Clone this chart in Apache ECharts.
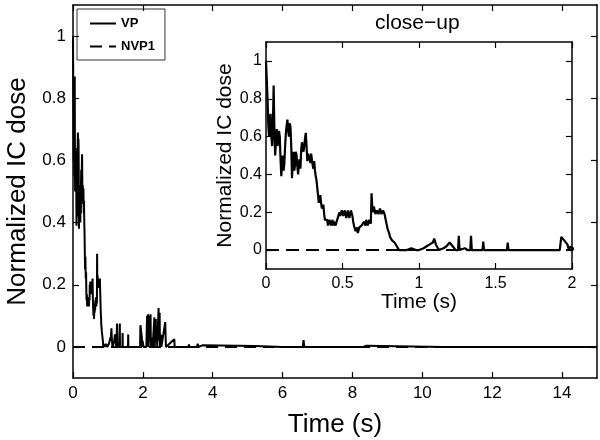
<!DOCTYPE html>
<html>
<head>
<meta charset="utf-8">
<script src="https://cdn.jsdelivr.net/npm/echarts@6/dist/echarts.min.js"></script>
<style>
  html, body { margin: 0; padding: 0; background: #fff; }
  #chart { width: 600px; height: 440px; }
</style>
</head>
<body>
<div id="chart"></div>
<script>
// VP dose, first 0.9 s, [time (s), normalized dose]
var vpEarly = [
  [0.00,1.00],[0.01,0.80],[0.02,0.60],[0.03,0.72],[0.04,0.55],[0.05,0.87],[0.06,0.50],[0.07,0.64],[0.08,0.58],[0.09,0.60],
  [0.10,0.39],[0.11,0.50],[0.12,0.46],[0.13,0.62],[0.14,0.69],[0.15,0.60],[0.16,0.65],[0.17,0.38],[0.18,0.52],[0.19,0.45],
  [0.20,0.50],[0.21,0.40],[0.22,0.48],[0.23,0.53],[0.24,0.57],[0.25,0.55],[0.26,0.62],[0.27,0.47],[0.28,0.52],[0.29,0.46],
  [0.30,0.50],[0.31,0.43],[0.32,0.42],[0.33,0.37],[0.34,0.29],[0.35,0.27],[0.36,0.25],[0.37,0.22],[0.38,0.19],[0.39,0.15],
  [0.40,0.16],[0.41,0.14],[0.42,0.15],[0.43,0.14],[0.44,0.13],[0.45,0.15],[0.46,0.14],[0.47,0.16],[0.48,0.20],[0.49,0.19],
  [0.50,0.21],[0.51,0.18],[0.52,0.20],[0.53,0.18],[0.54,0.19],[0.55,0.19],[0.56,0.22],[0.57,0.15],[0.58,0.12],[0.59,0.10],
  [0.60,0.09],[0.61,0.12],[0.62,0.11],[0.63,0.14],[0.64,0.15],[0.65,0.13],[0.66,0.16],[0.67,0.14],[0.68,0.16],[0.69,0.30],
  [0.70,0.20],[0.71,0.23],[0.72,0.19],[0.73,0.22],[0.74,0.20],[0.75,0.21],[0.76,0.19],[0.77,0.22],[0.78,0.17],[0.79,0.13],
  [0.80,0.10],[0.81,0.07],[0.82,0.06],[0.83,0.05],[0.84,0.04],[0.85,0.03],[0.86,0.01],[0.87,0.00],[0.88,0.01],[0.89,0.00]
];
// in-between samples (the jitter of the trace)
var vpEarlyFine = [
  [0.005,0.90],[0.015,0.66],[0.025,0.70],[0.035,0.60],[0.045,0.66],[0.055,0.62],[0.065,0.58],[0.075,0.55],[0.085,0.63],[0.095,0.48],
  [0.105,0.46],[0.115,0.42],[0.125,0.55],[0.135,0.66],[0.145,0.63],[0.155,0.67],[0.165,0.55],[0.175,0.47],[0.185,0.42],[0.195,0.52],
  [0.205,0.44],[0.215,0.46],[0.225,0.43],[0.235,0.57],[0.245,0.52],[0.255,0.59],[0.265,0.55],[0.275,0.51],[0.285,0.48],[0.295,0.51],
  [0.305,0.45],[0.315,0.47],[0.325,0.39],[0.335,0.33],[0.345,0.25],[0.355,0.29],[0.365,0.22],[0.375,0.24],[0.385,0.16],[0.395,0.17],
  [0.405,0.13],[0.415,0.16],[0.425,0.13],[0.435,0.16],[0.445,0.15],[0.455,0.13],[0.465,0.16],[0.475,0.15],[0.485,0.18],[0.495,0.21],
  [0.505,0.18],[0.515,0.21],[0.525,0.17],[0.535,0.21],[0.545,0.17],[0.555,0.21],[0.565,0.18],[0.575,0.13],[0.585,0.10],[0.595,0.12],
  [0.605,0.10],[0.615,0.13],[0.625,0.13],[0.635,0.12],[0.645,0.14],[0.655,0.16],[0.665,0.13],[0.675,0.16],[0.685,0.14],[0.695,0.22],
  [0.705,0.23],[0.715,0.19],[0.725,0.21],[0.735,0.19],[0.745,0.22],[0.755,0.19],[0.765,0.21],[0.775,0.19],[0.785,0.15],[0.795,0.11],
  [0.805,0.09],[0.815,0.07],[0.825,0.05],[0.835,0.04],[0.845,0.03],[0.855,0.02]
];
// 0.9 - 2 s, small spikes
var vpLate = [
  [0.90,0.01],[0.92,0.00],[0.95,0.01],[0.98,0.00],[1.00,0.00],[1.03,0.01],[1.05,0.02],[1.07,0.03],[1.08,0.02],[1.09,0.04],
  [1.10,0.06],[1.11,0.03],[1.13,0.00],[1.16,0.01],[1.18,0.02],[1.20,0.04],[1.22,0.02],[1.24,0.00],[1.255,0.00],[1.26,0.075],
  [1.265,0.00],[1.30,0.01],[1.32,0.00],[1.335,0.00],[1.34,0.075],[1.345,0.00],[1.38,0.00],[1.415,0.00],[1.42,0.045],[1.425,0.00],
  [1.50,0.00],[1.575,0.00],[1.58,0.04],[1.585,0.00],[1.70,0.00],[1.80,0.00],[1.92,0.00],[1.93,0.07],[1.95,0.05],[1.97,0.03],
  [1.98,0.00],[1.99,0.02]
];
// 2 - 15 s
var vpTail = [
  [2.00,0.02],[2.02,0.00],[2.10,0.00],[2.12,0.10],[2.13,0.01],[2.15,0.105],[2.16,0.00],[2.19,0.10],[2.20,0.02],[2.22,0.105],
  [2.23,0.00],[2.26,0.03],[2.28,0.00],[2.33,0.095],[2.34,0.00],[2.37,0.09],[2.38,0.02],[2.40,0.06],[2.41,0.00],[2.45,0.125],
  [2.46,0.02],[2.48,0.11],[2.49,0.00],[2.52,0.04],[2.53,0.00],[2.64,0.08],[2.66,0.00],[2.70,0.00],[2.90,0.025],[2.91,0.00],
  [3.30,0.00],[3.32,0.008],[3.34,0.00],[3.55,0.00],[3.57,0.01],[3.60,0.00],[3.70,0.005],[3.72,0.00],[5.20,0.003],[6.00,0.00],
  [6.58,0.00],[6.60,0.022],[6.62,0.00],[8.30,0.00],[8.32,0.006],[8.40,0.004],[8.42,0.00],[10.60,0.00],[10.65,0.004],[10.70,0.00],
  [15.00,0.00]
];
var nvp1 = [[0, 0], [15, 0]];

var mainXTicks = [0, 2, 4, 6, 8, 10, 12, 14];
var insetXTicks = [0, 0.5, 1, 1.5, 2];
var yTicks = [0, 0.2, 0.4, 0.6, 0.8, 1];

var vp = vpEarly.concat(vpEarlyFine, vpLate, vpTail).sort(function(a, b) { return a[0] - b[0]; });

var font = '"Liberation Sans", Arial, Helvetica, sans-serif';

function xAx(grid, pos, min, max, ticks, showLabel, labelSize, name, nameSize, nameGap) {
  return {
    type: 'value', gridIndex: grid, position: pos, min: min, max: max,
    axisLine: { show: true, onZero: false, lineStyle: { color: '#000', width: 1.5 } },
    axisTick: { show: true, inside: true, length: 6, customValues: ticks, lineStyle: { color: '#000', width: 1.2 } },
    axisLabel: { show: showLabel, customValues: ticks, color: '#000', fontSize: labelSize, fontFamily: font, margin: 7 },
    splitLine: { show: false },
    name: name, nameLocation: 'middle', nameGap: nameGap, nameMoveOverlap: false,
    nameTextStyle: { color: '#000', fontSize: nameSize, fontFamily: font }
  };
}
function yAx(grid, pos, ticks, showLabel, labelSize, margin, name, nameSize, nameGap) {
  return {
    type: 'value', gridIndex: grid, position: pos, min: -0.1, max: 1.1,
    axisLine: { show: true, onZero: false, lineStyle: { color: '#000', width: 1.5 } },
    axisTick: { show: true, inside: true, length: 6, customValues: ticks, lineStyle: { color: '#000', width: 1.2 } },
    axisLabel: { show: showLabel, customValues: ticks, color: '#000', fontSize: labelSize, fontFamily: font, margin: margin },
    splitLine: { show: false },
    name: name, nameLocation: 'middle', nameGap: nameGap, nameMoveOverlap: false,
    nameTextStyle: { color: '#000', fontSize: nameSize, fontFamily: font }
  };
}

var chart = echarts.init(document.getElementById('chart'), null, { renderer: 'canvas' });
chart.setOption({
  animation: false,
  backgroundColor: '#fff',
  color: ['#000'],
  grid: [
    { left: 73, right: 3, top: 5, bottom: 62, outerBoundsMode: 'none', containLabel: false },
    { left: 266, width: 306, top: 42, height: 227, outerBoundsMode: 'none', containLabel: false,
      show: true, backgroundColor: '#fff', borderWidth: 0 }
  ],
  xAxis: [
    xAx(0, 'bottom', 0, 15, mainXTicks, true, 17, 'Time (s)', 26, 34),
    xAx(0, 'top', 0, 15, mainXTicks, false, 17, '', 12, 0),
    xAx(1, 'bottom', 0, 2, insetXTicks, true, 16, 'Time (s)', 21, 23),
    xAx(1, 'top', 0, 2, insetXTicks, false, 16, '', 12, 0)
  ],
  yAxis: [
    yAx(0, 'left', yTicks, true, 17, 7, 'Normalized IC dose', 26, 42),
    yAx(0, 'right', yTicks, false, 17, 7, '', 12, 0),
    yAx(1, 'left', yTicks, true, 16, 4, 'Normalized IC dose', 21, 30),
    yAx(1, 'right', yTicks, false, 16, 4, '', 12, 0)
  ],
  legend: {
    data: ['VP', 'NVP1'],
    orient: 'vertical', left: 77, top: 9,
    borderColor: '#333', borderWidth: 1, borderRadius: 0,
    padding: [8, 10, 7, 12], itemGap: 10, itemWidth: 26, itemHeight: 14,
    itemStyle: { opacity: 0 },
    textStyle: { color: '#000', fontSize: 13, fontWeight: 'bold', fontFamily: font }
  },
  graphic: [{
    type: 'text', left: 375, top: 13,
    style: { text: 'close\u2212up', fill: '#000', font: '21px ' + font }
  }],
  series: [
    { name: 'NVP1', type: 'line', xAxisIndex: 0, yAxisIndex: 0, data: nvp1, symbol: 'none',
      itemStyle: { color: '#000' }, lineStyle: { color: '#000', width: 2, type: [12, 7] }, z: 2 },
    { name: 'VP', type: 'line', xAxisIndex: 0, yAxisIndex: 0, data: vp, symbol: 'none',
      itemStyle: { color: '#000' }, lineStyle: { color: '#000', width: 2 }, z: 3 },
    { name: 'NVP1', type: 'line', xAxisIndex: 2, yAxisIndex: 2, data: nvp1, symbol: 'none',
      itemStyle: { color: '#000' }, lineStyle: { color: '#000', width: 2, type: [13, 7] }, z: 2 },
    { name: 'VP', type: 'line', xAxisIndex: 2, yAxisIndex: 2, data: vp, symbol: 'none',
      itemStyle: { color: '#000' }, lineStyle: { color: '#000', width: 2.2 }, z: 3 }
  ]
});
</script>
</body>
</html>
